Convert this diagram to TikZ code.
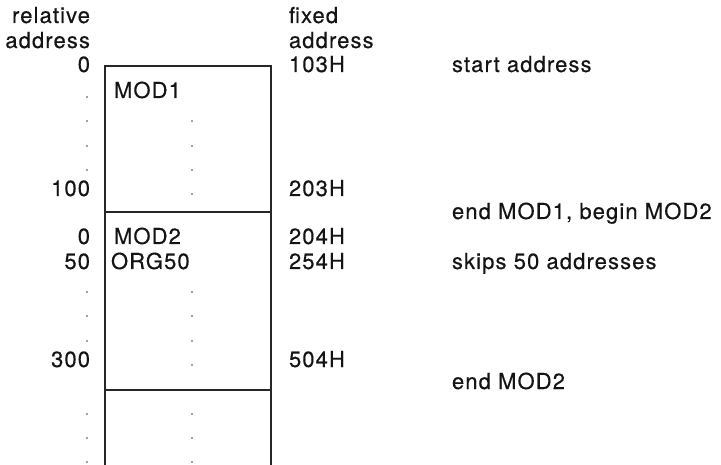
\documentclass[tikz,border=0pt]{standalone}
\usepackage{fontspec}
\setmainfont[LetterSpace=5,FakeBold=0.4]{TeX Gyre Heros}
\begin{document}
\begin{tikzpicture}[x=1pt,y=-1pt,
  lbl/.style={inner sep=0pt,outer sep=0pt,font=\fontsize{22}{25}\selectfont,text=black!92},
  rlbl/.style={lbl,anchor=base east},
  llbl/.style={lbl,anchor=base west},
  wall/.style={line width=2pt,draw=black!85},
  dotmark/.style={fill=black!50}]
\useasboundingbox (0,0) rectangle (721,465);
% memory box
\draw[wall] (105,465) -- (105,66) -- (271,66) -- (271,465);
\draw[wall] (105,212) -- (271,212);
\draw[wall] (105,390) -- (271,390);
% headers
\node[rlbl] (relh) at (90,23) {relative};
\node[rlbl] (relaa) at (90,48) {address};
\node[llbl] (fixh) at (289,23) {fixed};
\node[llbl] (fixa) at (289,48) {address};
% relative addresses
\node[rlbl] (r0) at (90,72) {0};
\node[rlbl] (r100) at (90,196) {100};
\node[rlbl] (r0b) at (90,244) {0};
\node[rlbl] (r50) at (90,269) {50};
\node[rlbl] (r300) at (90,367) {300};
% module labels
\node[llbl] (m1) at (114,98) {MOD1};
\node[llbl] (m2) at (114,244) {MOD2};
\node[llbl] (org) at (111,269) {ORG50};
% fixed addresses
\node[llbl] (f103) at (289,72) {103H};
\node[llbl] (f203) at (289,196) {203H};
\node[llbl] (f204) at (289,244) {204H};
\node[llbl] (f254) at (289,269) {254H};
\node[llbl] (f504) at (289,367) {504H};
% comments
\node[llbl] (c1) at (452,72) {start address};
\node[llbl] (c2) at (452,219) {end MOD1, begin MOD2};
\node[llbl] (c3) at (452,269) {skips 50 addresses};
\node[llbl] (c4) at (452,389) {end MOD2};
% continuation dots
\foreach \y in {97,121,146,170,292,316,341,414,438,462}
  \fill[dotmark] (87,\y) circle (1.2);
\foreach \y in {121,146,170,194,292,316,341,365,414,438,462}
  \fill[dotmark] (192,\y) circle (1.2);
\end{tikzpicture}
\end{document}
